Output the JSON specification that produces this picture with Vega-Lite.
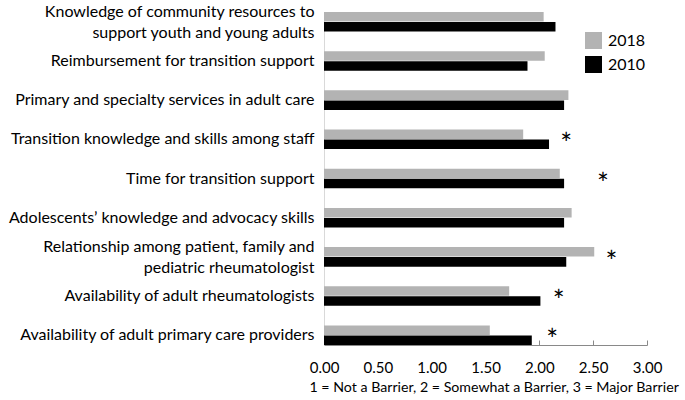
{
  "$schema": "https://vega.github.io/schema/vega-lite/v6.json",
  "width": 323,
  "height": 333,
  "autosize": {"type": "none"},
  "padding": {"left": 324, "top": 12, "right": 38, "bottom": 55},
  "config": {"view": {"stroke": null}, "font": "Lato"},
  "data": {
    "values": [
      {"item": "Knowledge of community resources to|support youth and young adults", "year": "2018", "value": 2.04},
      {"item": "Knowledge of community resources to|support youth and young adults", "year": "2010", "value": 2.15},
      {"item": "Reimbursement for transition support", "year": "2018", "value": 2.05},
      {"item": "Reimbursement for transition support", "year": "2010", "value": 1.89},
      {"item": "Primary and specialty services in adult care", "year": "2018", "value": 2.27},
      {"item": "Primary and specialty services in adult care", "year": "2010", "value": 2.23},
      {"item": "Transition knowledge and skills among staff", "year": "2018", "value": 1.85},
      {"item": "Transition knowledge and skills among staff", "year": "2010", "value": 2.09, "star_at": 2.25},
      {"item": "Time for transition support", "year": "2018", "value": 2.19},
      {"item": "Time for transition support", "year": "2010", "value": 2.23, "star_at": 2.59},
      {"item": "Adolescents’ knowledge and advocacy skills", "year": "2018", "value": 2.30},
      {"item": "Adolescents’ knowledge and advocacy skills", "year": "2010", "value": 2.23},
      {"item": "Relationship among patient, family and|pediatric rheumatologist", "year": "2018", "value": 2.51},
      {"item": "Relationship among patient, family and|pediatric rheumatologist", "year": "2010", "value": 2.25, "star_at": 2.67},
      {"item": "Availability of adult rheumatologists", "year": "2018", "value": 1.72},
      {"item": "Availability of adult rheumatologists", "year": "2010", "value": 2.01, "star_at": 2.18},
      {"item": "Availability of adult primary care providers", "year": "2018", "value": 1.54},
      {"item": "Availability of adult primary care providers", "year": "2010", "value": 1.93, "star_at": 2.12}
    ]
  },
  "layer": [
    {
      "mark": {"type": "bar"},
      "encoding": {
        "y": {
          "field": "item", "type": "nominal", "sort": null,
          "scale": {"paddingInner": 0.5, "paddingOuter": 0},
          "axis": {
            "title": null, "domain": true, "domainColor": "#d9d9d9", "ticks": false,
            "labelPadding": 10, "labelFontSize": 16, "labelColor": "#000", "labelLimit": 0,
            "labelBaseline": "middle",
            "labelOffset": {"condition": {"test": "indexof(datum.value, '|') >= 0", "value": -10}, "value": 0},
            "labelExpr": "split(datum.label, '|')", "labelLineHeight": 21
          }
        },
        "x": {
          "field": "value", "type": "quantitative",
          "scale": {"domain": [0, 3], "nice": false},
          "axis": {
            "title": "1 = Not a Barrier, 2 = Somewhat a Barrier, 3 = Major Barrier",
            "values": [0, 0.5, 1, 1.5, 2, 2.5, 3], "format": ".2f", "grid": false,
            "labelFlush": false, "labelOverlap": false,
            "domainColor": "#898989", "tickColor": "#898989", "tickSize": -5,
            "labelFontSize": 15, "labelColor": "#000", "labelPadding": 20,
            "titleFontSize": 14.2, "titleFontWeight": "normal", "titleColor": "#000",
            "titleAnchor": "start", "titleX": -15, "titleY": 35, "zindex": 0
          }
        },
        "yOffset": {"field": "year", "type": "nominal", "sort": ["2018", "2010"], "scale": {"paddingInner": 0.05}},
        "color": {
          "field": "year", "type": "nominal",
          "scale": {"domain": ["2018", "2010"], "range": ["#b3b3b3", "#000000"]},
          "legend": {
            "title": null, "orient": "none", "legendX": 261, "legendY": 20,
            "symbolType": "square", "symbolSize": 289, "symbolStrokeWidth": 0,
            "labelFontSize": 16, "labelOffset": 6, "rowPadding": 7, "padding": 0, "labelColor": "#000"
          }
        }
      }
    },
    {
      "transform": [{"filter": "datum.star_at != null"}],
      "mark": {"type": "text", "text": "*", "fontSize": 28, "dy": 7, "color": "#000"},
      "encoding": {
        "y": {"field": "item", "type": "nominal", "sort": null},
        "x": {"field": "star_at", "type": "quantitative"}
      }
    }
  ]
}
